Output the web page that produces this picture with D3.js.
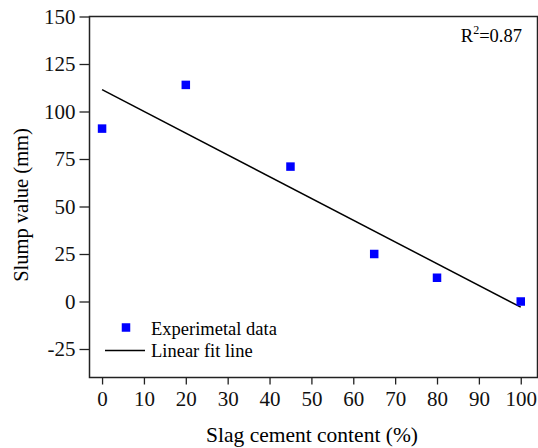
<!DOCTYPE html>
<html>
<head>
<meta charset="utf-8">
<script src="https://cdn.jsdelivr.net/npm/d3@7"></script>
<style>
    body { margin: 0; background: #fff; }
    svg text { font-family: "Liberation Serif", "Times New Roman", serif; }
</style>
</head>
<body>
<svg width="538" height="448"></svg>
<script>
// data
const slagContent = [0, 20, 45, 65, 80, 100];
const slumpValue = [91, 114, 71, 25, 12.5, 0];
const fitX = [0, 100];
const fitY = [111.5, -3];
const xTicks = [0, 10, 20, 30, 40, 50, 60, 70, 80, 90, 100];
const yTicks = [-25, 0, 25, 50, 75, 100, 125, 150];
const legendLabels = ["Experimetal data", "Linear fit line"];

const svg = d3.select("svg");
const plotLeft = 89.5, plotRight = 537.5, plotTop = 16.5, plotBottom = 377.5;

const x = d3.scaleLinear().domain([-3, 104]).range([plotLeft, plotRight]);
const y = d3.scaleLinear().domain([-40, 150]).range([plotBottom, plotTop]);

// frame
svg.append("rect")
    .attr("x", plotLeft).attr("y", plotTop)
    .attr("width", plotRight - plotLeft).attr("height", plotBottom - plotTop)
    .attr("fill", "none").attr("stroke", "#222").attr("stroke-width", 1.5);

// axes
const xAxis = svg.append("g")
    .attr("transform", `translate(0,${plotBottom})`)
    .call(d3.axisBottom(x).tickValues(xTicks).tickSize(7).tickPadding(7));
const yAxis = svg.append("g")
    .attr("transform", `translate(${plotLeft},0)`)
    .call(d3.axisLeft(y).tickValues(yTicks).tickSize(10).tickPadding(4).tickFormat(d => String(d)));

[xAxis, yAxis].forEach(g => {
    g.attr("font-family", null).attr("font-size", null);
    g.select(".domain").remove();
    g.selectAll("line").attr("stroke", "#222").attr("stroke-width", 1.3);
    g.selectAll("text")
        .attr("fill", "#111")
        .style("font-size", "21px");
});

// axis titles
svg.append("text")
    .attr("x", 312).attr("y", 442)
    .attr("text-anchor", "middle")
    .style("font-size", "21.5px")
    .text("Slag cement content (%)");

svg.append("text")
    .attr("transform", "translate(28,205) rotate(-90)")
    .attr("text-anchor", "middle")
    .style("font-size", "20.5px")
    .text("Slump value (mm)");

// fit line
const fitData = fitX.map((d, i) => [d, fitY[i]]);
svg.append("path")
    .datum(fitData)
    .attr("d", d3.line().x(d => x(d[0])).y(d => y(d[1])))
    .attr("fill", "none").attr("stroke", "#000").attr("stroke-width", 1.5);

// points
const markerSize = 8.5;
svg.selectAll("rect.pt")
    .data(slagContent)
    .enter()
    .append("rect")
    .attr("class", "pt")
    .attr("x", d => x(d) - markerSize / 2)
    .attr("y", (d, i) => y(slumpValue[i]) - markerSize / 2)
    .attr("width", markerSize).attr("height", markerSize)
    .attr("fill", "#0000ff");

// R squared
const r2 = svg.append("text")
    .attr("x", 522).attr("y", 42)
    .attr("text-anchor", "end")
    .style("font-size", "18.5px");
r2.append("tspan").text("R");
r2.append("tspan").attr("dy", -8).style("font-size", "12px").text("2");
r2.append("tspan").attr("dy", 8).text("=0.87");

// legend
svg.append("rect")
    .attr("x", 126 - markerSize / 2).attr("y", 327.5 - markerSize / 2)
    .attr("width", markerSize).attr("height", markerSize)
    .attr("fill", "#0000ff");
svg.append("line")
    .attr("x1", 105).attr("x2", 145)
    .attr("y1", 350.5).attr("y2", 350.5)
    .attr("stroke", "#000").attr("stroke-width", 1.5);
svg.selectAll("text.legend")
    .data(legendLabels)
    .enter()
    .append("text")
    .attr("class", "legend")
    .attr("x", 151)
    .attr("y", (d, i) => 334.5 + i * 22)
    .style("font-size", "18.5px")
    .text(d => d);
</script>
</body>
</html>
